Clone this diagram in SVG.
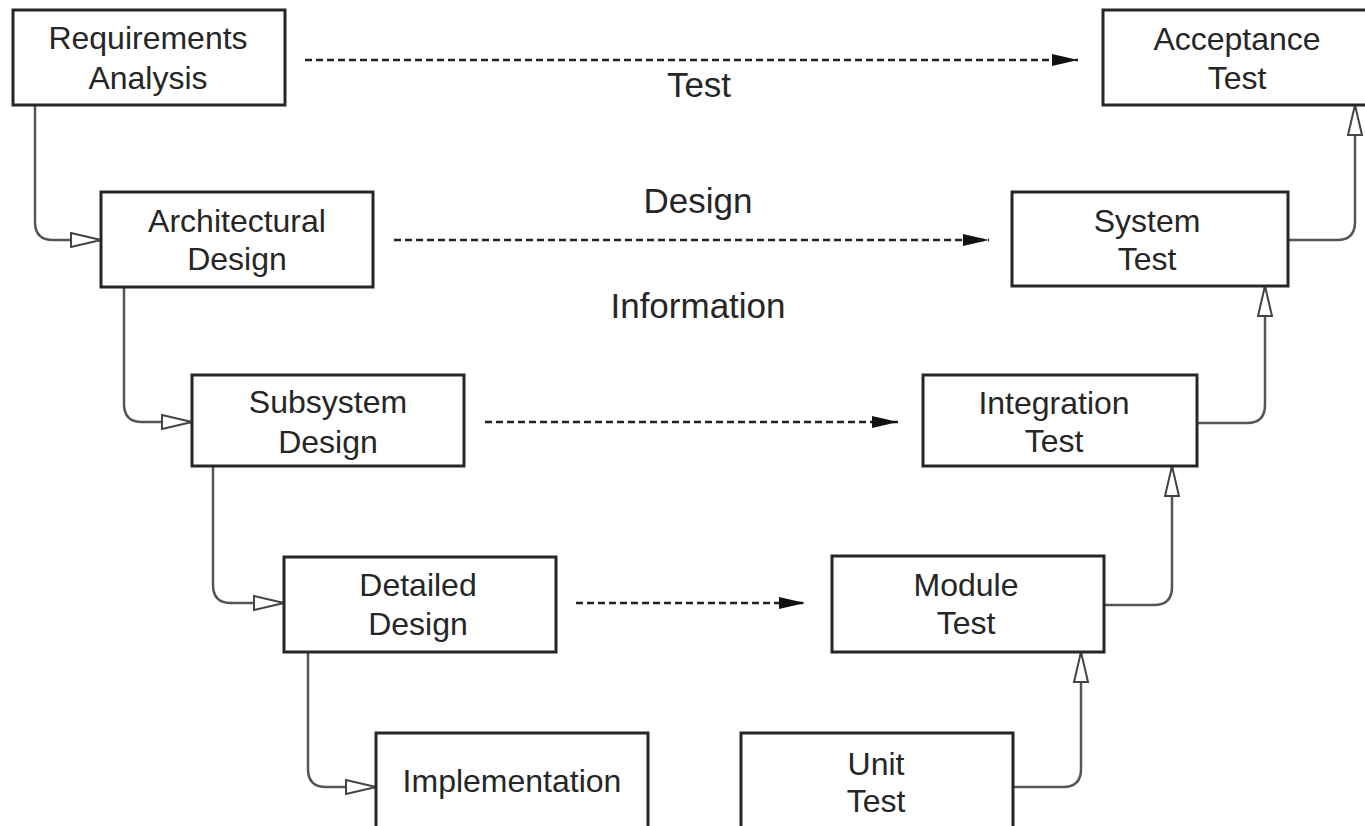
<svg xmlns="http://www.w3.org/2000/svg" width="1365" height="826" viewBox="0 0 1365 826">
  <defs>
    <style>
      .box { fill: #fff; stroke: #262626; stroke-width: 3; }
      .lbl { font-family: "Liberation Sans", Arial, sans-serif; font-size: 32px; fill: #262626; text-anchor: middle; }
      .big { font-family: "Liberation Sans", Arial, sans-serif; font-size: 35px; fill: #262626; text-anchor: middle; }
      .flow { fill: none; stroke: #555; stroke-width: 2.5; marker-end: url(#open); }
      .info { fill: none; stroke: #222; stroke-width: 2.5; stroke-dasharray: 7 4; marker-end: url(#solid); }
    </style>
    <marker id="open" markerUnits="userSpaceOnUse" markerWidth="34" markerHeight="20" viewBox="-2 -9 34 18" refX="30" refY="0" orient="auto">
      <path d="M0,-7 L30,0 L0,7 Z" fill="#fff" stroke="#444" stroke-width="2"/>
    </marker>
    <marker id="solid" markerUnits="userSpaceOnUse" markerWidth="30" markerHeight="16" viewBox="0 -8 30 16" refX="26" refY="0" orient="auto">
      <path d="M0,-6 L26,0 L0,6 Z" fill="#111"/>
    </marker>
  </defs>
  <rect width="1365" height="826" fill="#fff"/>

  <!-- phase flow and information arrows -->
  <g id="connectors">
    <!-- left branch: decomposition -->
    <path class="flow" d="M35,105 V222 Q35,240 53,240 H101"/>
    <path class="flow" d="M124,287 V404 Q124,422 142,422 H192"/>
    <path class="flow" d="M213,466 V585 Q213,603 231,603 H284"/>
    <path class="flow" d="M308,652 V769 Q308,787 326,787 H376"/>
    <!-- right branch: integration -->
    <path class="flow" d="M1013,787 H1063 Q1081,787 1081,769 V652"/>
    <path class="flow" d="M1104,605 H1154 Q1172,605 1172,587 V466"/>
    <path class="flow" d="M1197,423 H1247 Q1265,423 1265,405 V286"/>
    <path class="flow" d="M1288,240 H1337 Q1355,240 1355,222 V105"/>
    <!-- dashed cross links -->
    <path class="info" d="M305,60 H1078"/>
    <path class="info" d="M394,240 H989"/>
    <path class="info" d="M485,422 H898"/>
    <path class="info" d="M576,603 H805"/>
  </g>

  <g id="labels">
    <text class="big" x="699" y="97">Test</text>
    <text class="big" x="698" y="213">Design</text>
    <text class="big" x="698" y="318">Information</text>
  </g>

  <g id="requirements-analysis">
    <rect class="box" x="13" y="10" width="272" height="95"/>
    <text class="lbl" x="148" y="49">Requirements</text>
    <text class="lbl" x="148" y="89">Analysis</text>
  </g>
  <g id="architectural-design">
    <rect class="box" x="101" y="192" width="272" height="95"/>
    <text class="lbl" x="237" y="232">Architectural</text>
    <text class="lbl" x="237" y="270">Design</text>
  </g>
  <g id="subsystem-design">
    <rect class="box" x="192" y="375" width="272" height="91"/>
    <text class="lbl" x="328" y="413">Subsystem</text>
    <text class="lbl" x="328" y="453">Design</text>
  </g>
  <g id="detailed-design">
    <rect class="box" x="284" y="557" width="272" height="95"/>
    <text class="lbl" x="418" y="596">Detailed</text>
    <text class="lbl" x="418" y="635">Design</text>
  </g>
  <g id="implementation">
    <rect class="box" x="376" y="733" width="272" height="110"/>
    <text class="lbl" x="512" y="792">Implementation</text>
  </g>
  <g id="unit-test">
    <rect class="box" x="741" y="733" width="272" height="110"/>
    <text class="lbl" x="876" y="775">Unit</text>
    <text class="lbl" x="876" y="812">Test</text>
  </g>
  <g id="module-test">
    <rect class="box" x="832" y="556" width="272" height="96"/>
    <text class="lbl" x="966" y="596">Module</text>
    <text class="lbl" x="966" y="634">Test</text>
  </g>
  <g id="integration-test">
    <rect class="box" x="923" y="375" width="274" height="91"/>
    <text class="lbl" x="1054" y="414">Integration</text>
    <text class="lbl" x="1054" y="452">Test</text>
  </g>
  <g id="system-test">
    <rect class="box" x="1012" y="192" width="276" height="94"/>
    <text class="lbl" x="1147" y="232">System</text>
    <text class="lbl" x="1147" y="270">Test</text>
  </g>
  <g id="acceptance-test">
    <rect class="box" x="1103" y="10" width="270" height="95"/>
    <text class="lbl" x="1237" y="50">Acceptance</text>
    <text class="lbl" x="1237" y="89">Test</text>
  </g>
</svg>
